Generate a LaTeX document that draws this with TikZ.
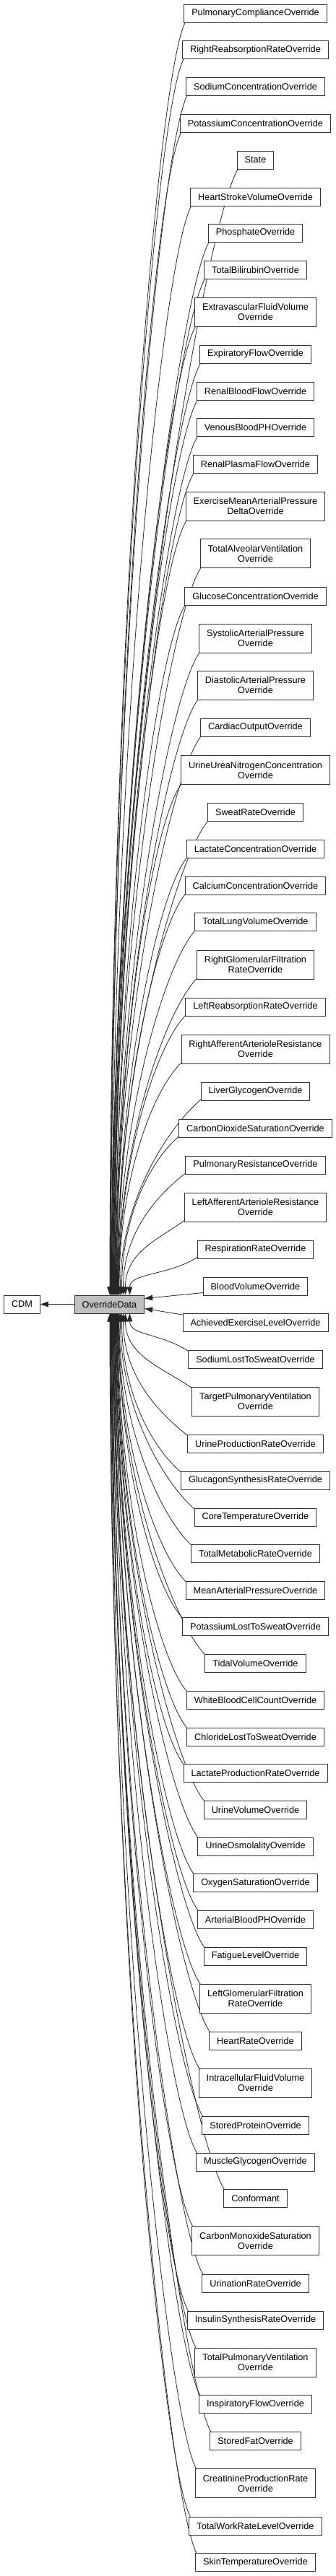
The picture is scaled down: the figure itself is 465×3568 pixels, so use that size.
\documentclass[tikz,border=0pt]{standalone}
\usepackage{fontspec}
\setmainfont{Liberation Sans}
\usetikzlibrary{arrows.meta,calc,backgrounds}
\tikzset{
  cls/.style={draw=black!80, line width=0.9pt, fill=white, font=\fontsize{12.7}{14}\selectfont, align=center, inner xsep=10.5pt, inner ysep=0pt, minimum height=25pt},
  hub/.style={cls, fill=black!25},
  dep/.style={draw=black!85, line width=0.8pt, -{Triangle[length=11pt,width=7.5pt]}},
}
\begin{document}
\begin{tikzpicture}[x=1pt,y=-1pt]
\useasboundingbox (0,0) rectangle (465,3568);
\node[hub] (od) at (151.5,1806.5) {OverrideData};
\node[cls] (cdm) at (30.5,1806.5) {CDM};
\foreach \i/\yc/\hh/\ddx/\txt in {
1/18.5/25/0.5/PulmonaryComplianceOverride,
2/69/25/1/RightReabsorptionRateOverride,
3/120/25/1.5/SodiumConcentrationOverride,
4/170.5/25/2/PotassiumConcentrationOverride,
5/221.5/25/2.5/State,
6/272.5/25/3/HeartStrokeVolumeOverride,
7/322.5/25/3.5/PhosphateOverride,
8/373.5/25/4/TotalBilirubinOverride,
9/432/40/4.5/ExtravascularFluidVolume\\Override,
10/490.5/25/5/ExpiratoryFlowOverride,
11/541.5/25/5.5/RenalBloodFlowOverride,
12/592/25/6/VenousBloodPHOverride,
13/642.5/25/6.5/RenalPlasmaFlowOverride,
14/701/40/7/ExerciseMeanArterialPressure\\DeltaOverride,
15/766.5/40/7.5/TotalAlveolarVentilation\\Override,
16/825.5/25/8/GlucoseConcentrationOverride,
17/884/40/8.5/SystolicArterialPressure\\Override,
18/949/40/9/DiastolicArterialPressure\\Override,
19/1007.5/25/9.5/CardiacOutputOverride,
20/1066.5/40/10/UrineUreaNitrogenConcentration\\Override,
21/1125/25/10.5/SweatRateOverride,
22/1176/25/11/LactateConcentrationOverride,
23/1226.5/25/11.5/CalciumConcentrationOverride,
24/1277/25/12/TotalLungVolumeOverride,
25/1336/40/12.5/RightGlomerularFiltration\\RateOverride,
26/1394.5/25/13/LeftReabsorptionRateOverride,
27/1453/40/13.5/RightAfferentArterioleResistance\\Override,
28/1511.5/25/15/LiverGlycogenOverride,
29/1562.5/25/17/CarbonDioxideSaturationOverride,
30/1613.5/25/19/PulmonaryResistanceOverride,
31/1672/40/22/LeftAfferentArterioleResistance\\Override,
32/1730.5/25/28/RespirationRateOverride,
33/1781.5/25/0/BloodVolumeOverride,
34/1832/25/0/AchievedExerciseLevelOverride,
35/1882.5/25/28/SodiumLostToSweatOverride,
36/1941/40/22/TargetPulmonaryVentilation\\Override,
37/1999.5/25/19/UrineProductionRateOverride,
38/2050.5/25/17/GlucagonSynthesisRateOverride,
39/2101.5/25/15/CoreTemperatureOverride,
40/2151.5/25/13.5/TotalMetabolicRateOverride,
41/2202.5/25/13/MeanArterialPressureOverride,
42/2253/25/12.5/PotassiumLostToSweatOverride,
43/2304/25/12/TidalVolumeOverride,
44/2354.5/25/11.5/WhiteBloodCellCountOverride,
45/2405.5/25/11/ChlorideLostToSweatOverride,
46/2456/25/10.5/LactateProductionRateOverride,
47/2506.5/25/10/UrineVolumeOverride,
48/2557.5/25/9.5/UrineOsmolalityOverride,
49/2608/25/9/OxygenSaturationOverride,
50/2658.5/25/8.5/ArterialBloodPHOverride,
51/2709.5/25/8/FatigueLevelOverride,
52/2768/40/7.5/LeftGlomerularFiltration\\RateOverride,
53/2826.5/25/7/HeartRateOverride,
54/2885/40/6.5/IntracellularFluidVolume\\Override,
55/2943.5/25/6/StoredProteinOverride,
56/2994.5/25/5.5/MuscleGlycogenOverride,
57/3045/25/5/Conformant,
58/3103.5/40/4.5/CarbonMonoxideSaturation\\Override,
59/3162.5/25/4/UrinationRateOverride,
60/3213.5/25/3.5/InsulinSynthesisRateOverride,
61/3272/40/3/TotalPulmonaryVentilation\\Override,
62/3330/25/2.5/InspiratoryFlowOverride,
63/3381/25/2/StoredFatOverride,
64/3439.5/40/1.5/CreatinineProductionRate\\Override,
65/3498.5/25/1/TotalWorkRateLevelOverride,
66/3549/25/0.5/SkinTemperatureOverride}{
  \node[cls, minimum height=\hh pt] (n\i) at (353.5,\yc) {\txt};
  \begin{scope}[on background layer]
  \ifnum\i<33
    \pgfmathsetmacro\half{0.5*(1794-\yc)}
    \draw[dep] ([xshift=6pt,yshift=6pt]n\i.south west) .. controls ($([xshift=6pt,yshift=6pt]n\i.south west)+(-40,30)$) and ($(od.north)+(\ddx,-\half)$) .. ([xshift=\ddx pt]od.north);
  \else\ifnum\i>34
    \pgfmathsetmacro\half{0.5*(\yc-1819)}
    \draw[dep] ([xshift=6pt,yshift=-6pt]n\i.north west) .. controls ($([xshift=6pt,yshift=-6pt]n\i.north west)+(-40,-30)$) and ($(od.south)+(\ddx,\half)$) .. ([xshift=\ddx pt]od.south);
  \fi\fi
  \end{scope}
}
\begin{scope}[on background layer]
\draw[dep] ([yshift=-9pt]n33.west) -- ([yshift=8pt]od.east);
\draw[dep] ([yshift=11pt]n34.west) -- ([yshift=-6pt]od.east);
\draw[dep] (od.west) -- (cdm.east);
\end{scope}
\end{tikzpicture}
\end{document}
